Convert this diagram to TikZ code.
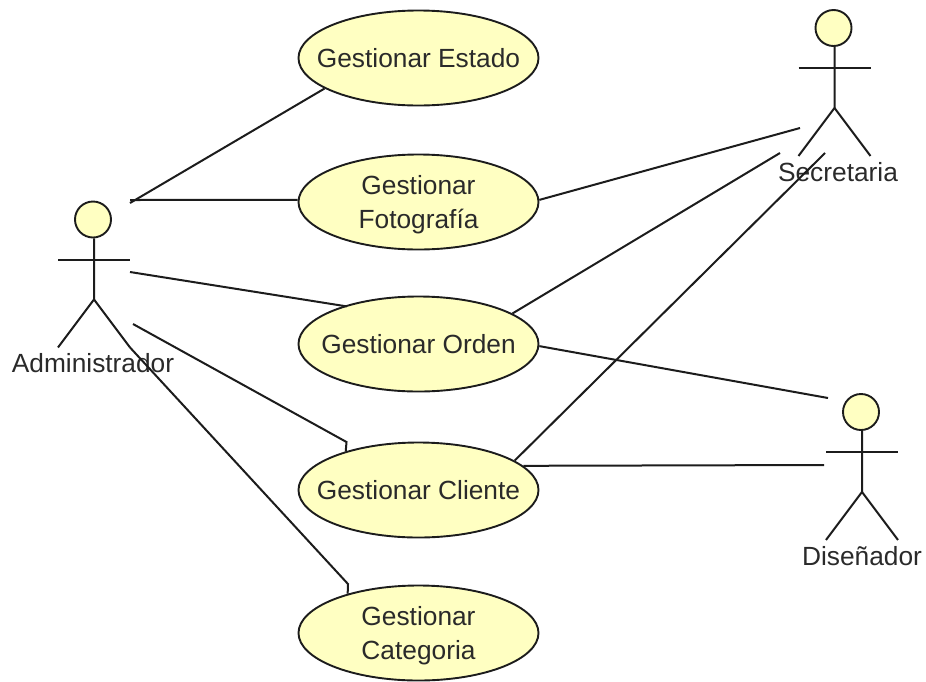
\documentclass[tikz,border=0pt]{standalone}
\usepackage{fontspec}
\setmainfont{Liberation Sans}
\usetikzlibrary{shapes.geometric}
\definecolor{usefill}{HTML}{FFFFC2}
\definecolor{usedraw}{HTML}{1C1C1C}
\definecolor{usetext}{HTML}{2A2A2A}
\tikzset{
    usecase/.style={ellipse,draw=usedraw,fill=usefill,line width=1.9pt,minimum width=240pt,minimum height=95pt,inner xsep=-30pt,inner ysep=-8pt,align=center,text=usetext,font=\fontsize{26.3}{34}\selectfont},
    actorhead/.style={circle,draw=usedraw,fill=usefill,line width=1.9pt,minimum size=36pt,inner sep=0pt},
    actorname/.style={inner sep=0pt,text=usetext,font=\fontsize{26.3}{34}\selectfont},
    assoc/.style={draw=usedraw,line width=2pt}
}
\begin{document}
\begin{tikzpicture}[x=1pt,y=-1pt]
    \useasboundingbox (0,0) rectangle (926,681);

    \node[usecase] (estado) at (418.5,58) {Gestionar Estado};
    \node[usecase] (foto) at (418.5,202) {\rule{0pt}{25pt}Gestionar\\Fotografía};
    \node[usecase] (orden) at (418.5,344) {Gestionar Orden};
    \node[usecase] (cliente) at (418.5,490) {Gestionar Cliente};
    \node[usecase] (categoria) at (418.5,633) {\rule{0pt}{25pt}Gestionar\\Categoria};

    \foreach \name/\cx/\cy in {adm/93/219.5, sec/833.5/28, dis/861/412} {
        \node[actorhead] (\name) at (\cx,\cy) {};
        \draw[assoc] (\name.south) ++(1,0) -- ++(0,61) coordinate (\name-hip) -- +(-36,48);
        \draw[assoc] (\name-hip) -- +(36,48) coordinate (\name-foot);
        \draw[assoc] ([shift={(-35,21.5)}]\name.south) -- +(72,0);
    }

    \node[actorname] (admname) at (93,363) {Administrador};
    \node[actorname] (secname) at (838,172) {Secretaria};
    \node[actorname] (disname) at (862,556) {Diseñador};

    % free ends next to the actors
    \coordinate (adm1) at (130,203);
    \coordinate (adm2) at (130,200);
    \coordinate (adm3) at (130,272);
    \coordinate (adm4) at (133,324);
    \coordinate (bend1) at (346.5,442);
    \coordinate (bend2) at (348,584);
    \coordinate (sec1) at (800,128);
    \coordinate (sec2) at (780,153);
    \coordinate (sec3) at (825,153);
    \coordinate (dis1) at (828,398);
    \coordinate (dis2) at (824,465);

    \draw[assoc] (adm1) -- (estado.198);
    \draw[assoc] (adm2) -- (foto.179);
    \draw[assoc,shorten >=-3pt] (adm3) -- (orden.153);
    \draw[assoc] (adm4) -- (bend1) -- (cliente.152);
    \draw[assoc] (adm-foot) -- (bend2) -- (categoria.151);
    \draw[assoc] (foto.1) -- (sec1);
    \draw[assoc] (orden.18) -- (sec2);
    \draw[assoc] (cliente.17) -- (sec3);
    \draw[assoc] (orden.359) -- (dis1);
    \draw[assoc] (cliente.13) -- (dis2);
\end{tikzpicture}
\end{document}
